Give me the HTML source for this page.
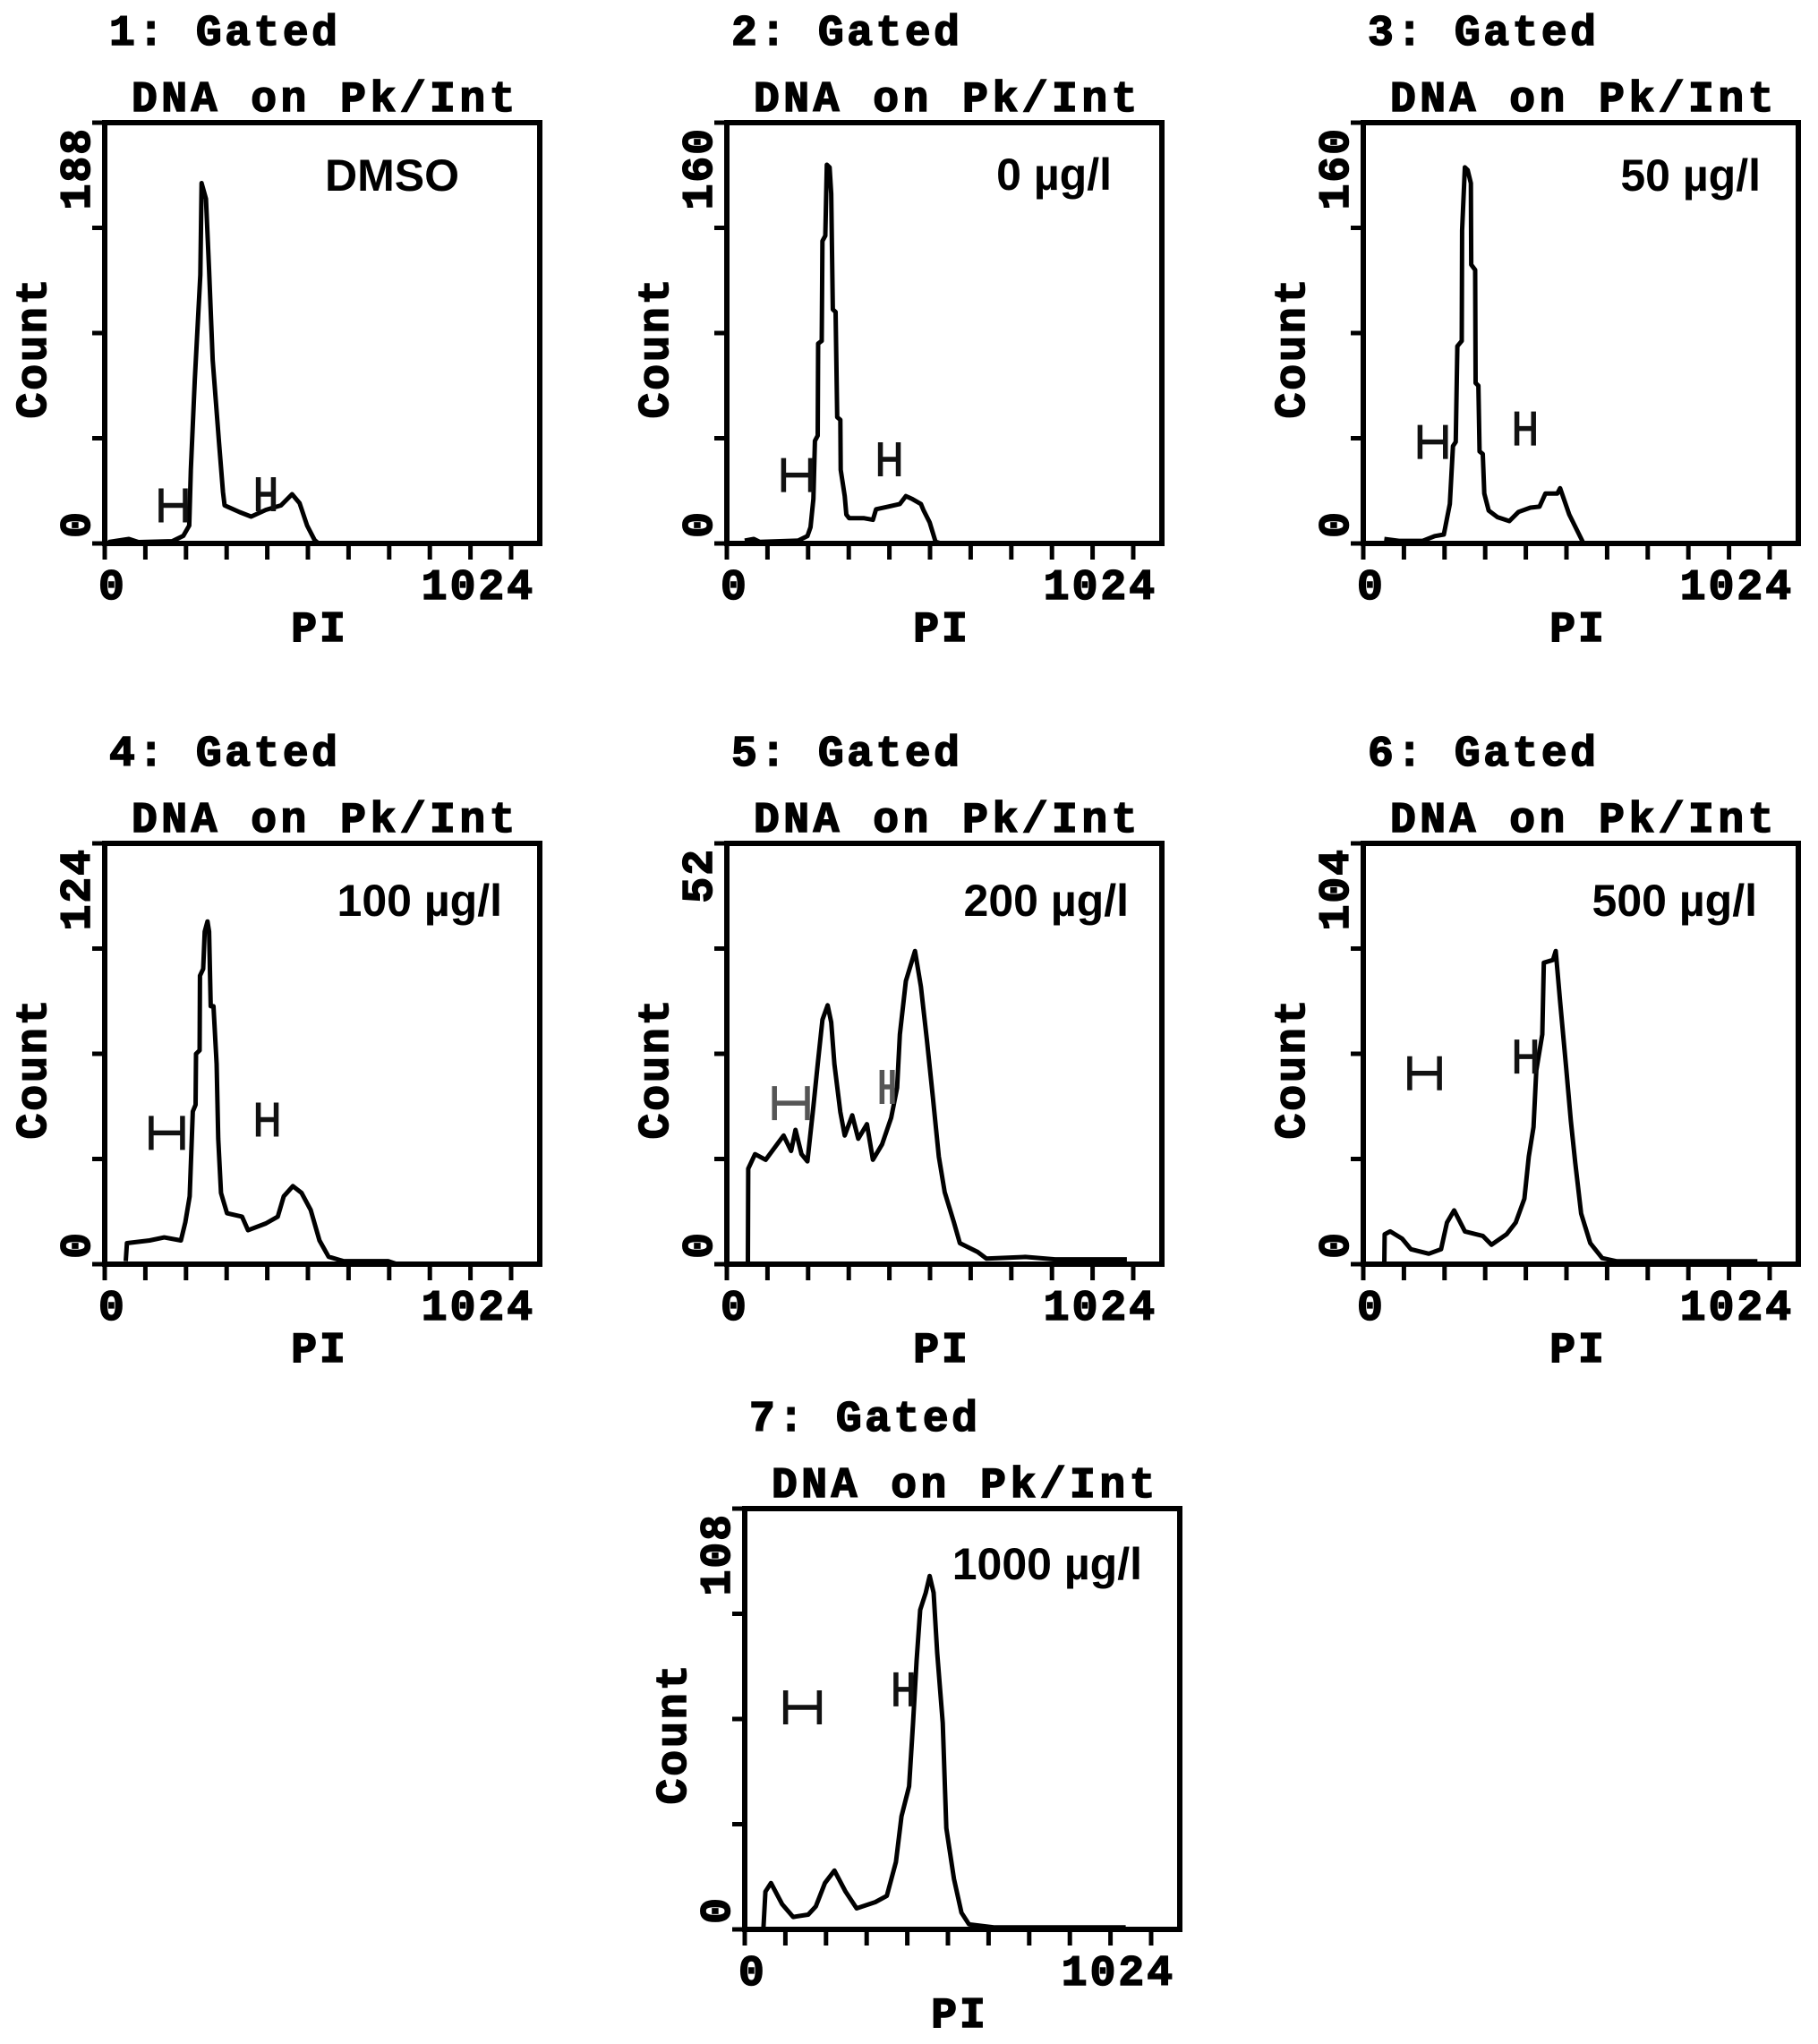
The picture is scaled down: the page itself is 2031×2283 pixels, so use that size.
<!DOCTYPE html>
<html><head><meta charset="utf-8"><style>
html,body{margin:0;padding:0;background:#fff;}
svg{display:block;}
.mono{font-family:"Liberation Mono",monospace;font-weight:bold;font-size:48px;fill:#000;stroke:#000;stroke-width:1.6px;}
.ann{font-family:"Liberation Sans",sans-serif;font-weight:bold;font-size:50px;fill:#000;}
</style></head><body>
<svg id="fig" width="2031" height="2283" viewBox="0 0 2031 2283" xmlns="http://www.w3.org/2000/svg"></svg>
<script>
// ----- data (channel = PI, count) -----
const panelIds = [1,2,3,4,5,6,7];
const panelMax = [188,160,160,124,52,104,108];
const panelLabels = ["DMSO","0 µg/l","50 µg/l","100 µg/l","200 µg/l","500 µg/l","1000 µg/l"];
const xTickLabels = ["0","1024"];
const ch1 = [9,61,85,170,198,213,217,227,241,244,255,263,272,288,298,302,340,369,406,444,472,491,510,529,539];
const ct1 = [0.6,2,0.6,1,3.4,8,33,73,120,161,154,122,82,45,23,17,14,12,15,17,22,18,8,1.5,0];
const ch2 = [45,68,83,180,203,211,218,222,229,230,239,241,248,252,259,263,267,274,278,286,287,297,301,308,346,368,376,406,436,451,466,489,496,511,526,541];
const ct2 = [1.1,1.7,0.6,1.1,2.8,6.2,17,39,41,76,77,115,117,144,143,133,89,88,48,47,28,18,11,9.6,9.6,9,13,14,15,18,17,15,12.5,8,0.6,0];
const ch3 = [53,90,150,180,203,218,226,233,237,248,249,256,263,271,272,282,283,290,293,301,305,316,338,368,391,421,444,459,489,496,519,553,556];
const ct3 = [1.7,1,1,2.8,3.4,15,37,38.6,75,77,119,143,142,137,106,104,61,60,35,34,19,12.5,10,8.5,12,13.6,14,19,19,21,11,0.6,0];
const ch4 = [53,56,113,150,192,203,214,222,229,230,239,240,248,252,259,263,267,274,282,286,293,308,346,361,406,436,451,474,496,519,541,564,602,714,737];
const ct4 = [0.9,6.2,7,7.9,7,12.3,20,45,47,62,63,85,87,98,101,98,76,76,59,37,21,15,14,10,12,14,20,23,21,16,7,2.2,0.9,0.9,0];
const ch5 = [53,54,71,98,143,162,173,188,203,218,229,241,254,263,271,286,297,316,331,353,368,391,414,429,436,451,474,489,504,519,534,549,572,587,632,654,752,827,1008];
const ct5 = [0,11.8,13.6,12.9,15.9,14,16.6,13.6,12.7,19.5,24.7,30.2,32,29.9,24.7,18.8,15.9,18.4,15.5,17.3,12.9,14.8,18.1,21.8,28.4,35,38.7,34.3,27.7,20.7,13.3,8.9,5.2,2.6,1.5,0.7,0.9,0.6,0.6];
const ch6 = [53,54,68,98,120,165,196,211,229,256,301,323,361,384,406,417,429,436,451,455,478,485,496,511,523,534,549,572,602,639,993];
const ct6 = [0,7.4,8.1,6.3,3.7,2.6,3.7,10.3,13.3,8.1,7,4.8,7.4,10.3,16.2,26.6,33.9,47.9,56.8,74.5,75.2,77.4,64.9,48.7,35.4,25.1,12.5,5.2,1.5,0.7,0.7];
const ch7 = [47,52,66,94,122,160,179,202,226,254,282,329,358,381,395,414,424,433,442,456,466,476,485,499,508,527,546,565,630,960];
const ct7 = [0,9.7,11.9,6.5,3.2,3.8,5.9,11.9,15.1,9.7,5.4,7,8.6,17.3,29,36.7,52.9,69,82,86.4,90.7,86.4,71,53,26,13,4.3,1.3,0.5,0.5];
// gate markers: [start channel, end channel, count level]
const gate1Start = [142,143,143,117,120,117,103];
const gate1End   = [203,211,207,196,203,192,188];
const gate1Level = [17,26,38.6,38.7,19.9,47.2,57];
const gate2Start = [387,387,387,387,391,387,381];
const gate2End   = [425,432,429,432,417,432,419];
const gate2Level = [22,32,43.7,42.6,21.9,51.3,61.6];

const channels = [ch1,ch2,ch3,ch4,ch5,ch6,ch7];
const counts = [ct1,ct2,ct3,ct4,ct5,ct6,ct7];
// layout (not data)
const boxX = [117,812,1523,117,812,1523,832];
const boxY = [137,137,137,942,942,942,1685];
const annRight = [396,430,444,444,449,440,444];
const annBase = [76,75,76,81,81,81,79];
const BW=486, BH=470, XSPAN=454;
const NS="http://www.w3.org/2000/svg";
const svg=document.getElementById('fig');
function mk(tag,attrs,parent){const e=document.createElementNS(NS,tag);for(const k in attrs)e.setAttribute(k,attrs[k]);(parent||svg).appendChild(e);return e;}

panelIds.forEach((id,i)=>{
  const bx=boxX[i], by=boxY[i], ymax=panelMax[i];
  const xs=v=>bx+v/1024*XSPAN;
  const ys=v=>by+BH-v/ymax*BH;
  const g=mk('g',{});
  
  
  let t=mk('text',{x:bx+5,y:by-87,class:'mono','letter-spacing':'3.5'},g);
  t.textContent=id+': Gated';
  
  
  t=mk('text',{x:bx+30,y:by-13,class:'mono','letter-spacing':'4.5'},g);
  t.textContent='DNA on Pk/Int';
  
  
  for(let k=0;k<5;k++){const y=by+k*BH/4;const l=mk('line',{x1:bx-14,y1:y,x2:bx,y2:y,stroke:'#000','stroke-width':5},g);
    
    }
  for(let k=0;k<=10;k++){const x=xs(k*102.4);const l=mk('line',{x1:x,y1:by+BH,x2:x,y2:by+BH+18,stroke:'#000','stroke-width':5},g);
    
    }
  const pts=channels[i].map((c,j)=>xs(c).toFixed(1)+','+ys(counts[i][j]).toFixed(1)).join(' ');
  const pl=mk('polyline',{points:pts,fill:'none',stroke:'#000','stroke-width':5,'stroke-linejoin':'round'},g);
  
  
  [[gate1Start,gate1End,gate1Level],[gate2Start,gate2End,gate2Level]].forEach((gg,m)=>{
    const x1=xs(gg[0][i]), x2=xs(gg[1][i]), y=ys(gg[2][i]);
    const d=`M${x1},${y-19}V${y+19}M${x2},${y-19}V${y+19}M${x1},${y}H${x2}`;
    const p=mk('path',{d:d,fill:'none',stroke:i===4?'#555':'#111','stroke-width':5.5},g);
    
    
  });
  const r=mk('rect',{x:bx,y:by,width:BW,height:BH,fill:'none',stroke:'#000','stroke-width':6},g);
  
  
  t=mk('text',{class:'mono','text-anchor':'end',transform:`translate(${bx-17},${by+5}) rotate(-90)`,'letter-spacing':'2'},g);
  t.textContent=String(ymax);
  
  
  t=mk('text',{class:'mono','text-anchor':'end',transform:`translate(${bx-17},${by+435}) rotate(-90)`},g);
  t.textContent='0';
  
  
  t=mk('text',{class:'mono','text-anchor':'middle',transform:`translate(${bx-66},${by+251}) rotate(-90)`,'letter-spacing':'3'},g);
  t.textContent='Count';
  
  
  t=mk('text',{x:bx-7,y:by+BH+62,class:'mono'},g);
  t.textContent=xTickLabels[0];
  
  
  t=mk('text',{x:bx+481,y:by+BH+62,class:'mono','text-anchor':'end','letter-spacing':'3'},g);
  t.textContent=xTickLabels[1];
  
  
  t=mk('text',{x:bx+240,y:by+BH+109,class:'mono','text-anchor':'middle','letter-spacing':'3'},g);
  t.textContent='PI';
  
  
  t=mk('text',{x:bx+annRight[i],y:by+annBase[i],class:'ann','text-anchor':'end'},g);
  t.textContent=panelLabels[i];
  
  
});
</script>
</body></html>
